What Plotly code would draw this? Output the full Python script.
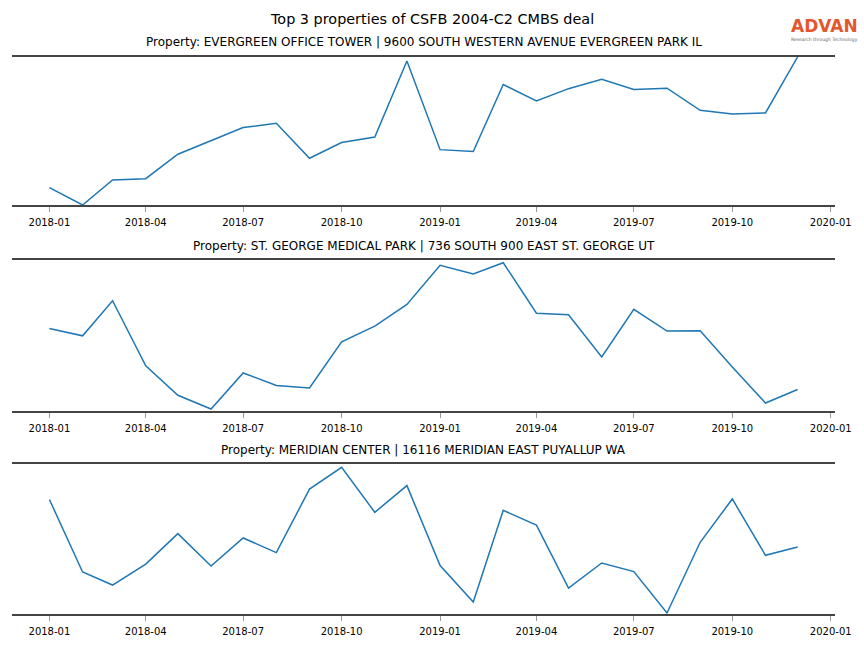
import plotly.graph_objects as go
from plotly.subplots import make_subplots

months = ["2018-01-01", "2018-02-01", "2018-03-01", "2018-04-01", "2018-05-01", "2018-06-01",
          "2018-07-01", "2018-08-01", "2018-09-01", "2018-10-01", "2018-11-01", "2018-12-01",
          "2019-01-01", "2019-02-01", "2019-03-01", "2019-04-01", "2019-05-01", "2019-06-01",
          "2019-07-01", "2019-08-01", "2019-09-01", "2019-10-01", "2019-11-01", "2019-12-01"]

titles = [
    "Property: EVERGREEN OFFICE TOWER | 9600 SOUTH WESTERN AVENUE EVERGREEN PARK IL",
    "Property: ST. GEORGE MEDICAL PARK | 736 SOUTH 900 EAST ST. GEORGE UT",
    "Property: MERIDIAN CENTER | 16116 MERIDIAN EAST PUYALLUP WA",
]

evergreen = [11.8, 0.0, 16.9, 17.8, 34.3, 43.7, 52.3, 55.2, 31.6, 42.2, 45.9, 97.3,
             37.4, 36.1, 81.4, 70.3, 78.6, 84.9, 78.0, 78.9, 64.0, 61.5, 62.2, 100.0]
st_george = [54.7, 49.8, 73.0, 29.9, 10.4, 1.3, 25.2, 16.9, 15.3, 45.8, 56.2, 70.6,
             96.5, 90.7, 98.2, 64.8, 63.7, 35.8, 67.3, 52.9, 53.1, 29.2, 5.3, 14.2]
meridian = [76.3, 28.0, 19.3, 33.3, 53.6, 32.0, 50.7, 40.9, 83.3, 97.8, 67.8, 85.6,
            32.3, 8.0, 69.1, 59.3, 17.3, 34.0, 28.3, 0.7, 47.8, 76.7, 39.1, 44.7]

series = [evergreen, st_george, meridian]

main_title = "Top 3 properties of CSFB 2004-C2 CMBS deal"

W, H = 864, 648
L, R = 12, 29
domains = [(57, 205), (260, 411), (464, 614)]  # pixel top/bottom of each panel
title_y = [42, 246, 450]
plot_w = W - L - R

def px_x(p):
    return (p - L) / plot_w

fig = make_subplots(rows=3, cols=1)

FONT = "DejaVu Sans"
for i, vals in enumerate(series):
    r = i + 1
    fig.add_trace(go.Scatter(x=months, y=vals, mode="lines",
                             line=dict(color="#1f77b4", width=1.5),
                             showlegend=False, hoverinfo="skip"), row=r, col=1)
    top, bot = domains[i]
    fig.update_yaxes(domain=[1 - bot / H, 1 - top / H], range=[0, 100],
                     showticklabels=False, showgrid=False, zeroline=False,
                     showline=False, ticks="", row=r, col=1)
    fig.update_xaxes(type="date", range=["2017-11-27 01:00", "2020-01-04 23:00"],
                     tick0="2018-01-01", dtick="M3", tickformat="%Y-%m",
                     showline=True, mirror=True, linecolor="#444444", linewidth=1.5,
                     ticks="outside", ticklen=5, tickwidth=1, tickcolor="#999999",
                     ticklabelstandoff=2,
                     showgrid=False, zeroline=False,
                     tickfont=dict(family=FONT, size=10, color="#000000"),
                     row=r, col=1)
    fig.add_annotation(text=titles[i], xref="paper", yref="paper",
                       x=px_x((12 + 835) / 2), y=1 - title_y[i] / H,
                       xanchor="center", yanchor="middle", showarrow=False,
                       font=dict(family=FONT, size=12, color="#000000"))

fig.add_annotation(text=main_title, xref="paper", yref="paper",
                   x=px_x(W / 2), y=1 - 19 / H, xanchor="center", yanchor="middle",
                   showarrow=False, font=dict(family=FONT, size=14.4, color="#000000"))

# logo
fig.add_annotation(text="<b>ADVAN</b>", xref="paper", yref="paper",
                   x=px_x(824), y=1 - 25.5 / H, xanchor="center", yanchor="middle",
                   showarrow=False, borderpad=0,
                   font=dict(family=FONT, size=17, color="#e4572e"))
fig.add_annotation(text="Research through Technology", xref="paper", yref="paper",
                   x=px_x(824), y=1 - 39.5 / H, xanchor="center", yanchor="middle",
                   showarrow=False, borderpad=0,
                   font=dict(family=FONT, size=4.5, color="#666666"))

fig.update_layout(width=W, height=H, margin=dict(l=L, r=R, t=0, b=0),
                  paper_bgcolor="white", plot_bgcolor="white",
                  font=dict(family=FONT))

fig.write_html("out.html", config={"displayModeBar": False},
               post_script="document.body.style.margin='0';document.body.style.overflow='hidden';")
